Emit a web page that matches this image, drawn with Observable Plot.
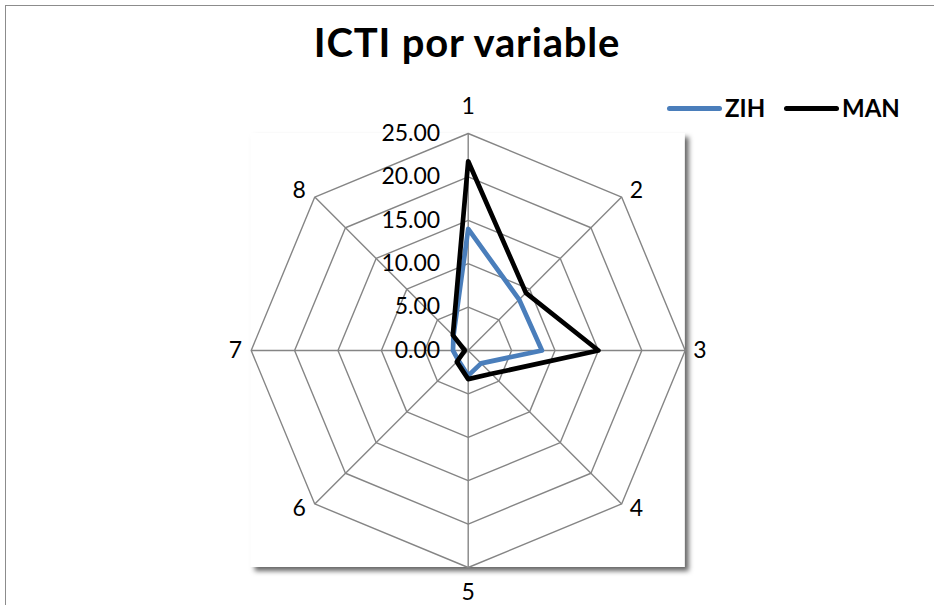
<!DOCTYPE html>
<html>
<head>
<meta charset="utf-8">
<script src="https://cdn.jsdelivr.net/npm/d3@7"></script>
<script src="https://cdn.jsdelivr.net/npm/@observablehq/plot@0.6"></script>
<style>
html, body { margin: 0; padding: 0; background: #fff; overflow: hidden; }
#wrap { position: relative; width: 934px; height: 605px; overflow: hidden; font-family: Lato, "Noto Sans", sans-serif; background: #fff; }
#border { position: absolute; left: 5px; top: 5px; width: 2000px; height: 2000px; border: 1.5px solid #8c8c8c; box-sizing: border-box; pointer-events: none; }
#chart { position: absolute; left: 0; top: 0; }
#title { position: absolute; left: 0; width: 934px; top: 21.5px; line-height: 40px; text-align: center; font-weight: 700; font-size: 40px; letter-spacing: 0.8px; color: #000; }
.sw { position: absolute; height: 4.5px; border-radius: 3px; }
.lt { position: absolute; font-weight: 700; font-size: 24px; line-height: 24px; color: #000; }
</style>
</head>
<body>
<div id="wrap">
  <div id="chart"></div>
  <div id="border"></div>
  <div id="title"></div>
  <div id="legend"></div>
</div>
<script>
// ---- data ----
const titleText = "ICTI por variable";
const axes = ["1", "2", "3", "4", "5", "6", "7", "8"];
const series = ["ZIH", "MAN"];
const zih = [14.0, 8.3, 8.5, 2.1, 2.9, 1.6, 1.75, 2.4];
const man = [21.8, 9.4, 15.0, 3.8, 3.3, 1.85, 0.4, 2.5];
const ticks = [0, 5, 10, 15, 20, 25];
const colors = ["#4a7ebb", "#000000"];

// ---- layout ----
const W = 934, H = 605;
const cx = 467.7, cy = 350, Rpx = 217;
const rMax = d3.max(ticks);
const k = Rpx / rMax;
const ang = i => (i * 2 * Math.PI) / axes.length;
const px = (r, i) => r * Math.sin(ang(i));
const py = (r, i) => r * Math.cos(ang(i));

const values = [zih, man];
const seriesData = series.flatMap((s, si) =>
  values[si].map((v, i) => ({ s, axis: axes[i], x: px(v, i), y: py(v, i) })));

const rings = ticks.filter(t => t > 0).flatMap(t =>
  d3.range(axes.length + 1).map(i => ({ r: t, x: px(t, i % axes.length), y: py(t, i % axes.length) })));

const spokes = axes.map((a, i) => ({ a, x1: 0, y1: 0, x2: px(rMax, i), y2: py(rMax, i) }));

const axisLabelMarks = axes.map((a, i) => {
  const s = Math.sin(ang(i)), c = Math.cos(ang(i));
  const anchor = s > 0.3 ? "start" : s < -0.3 ? "end" : "middle";
  const dx = s > 0.3 ? 8 : s < -0.3 ? -9 : 0;
  const dy = Math.abs(c) > 0.9 ? (c > 0 ? -27 : 25) : Math.abs(c) > 0.5 ? (c > 0 ? -6 : 5) : 0;
  return Plot.text([{ a, x: px(rMax, i), y: py(rMax, i) }], {
    x: "x", y: "y", text: "a", textAnchor: anchor, dx, dy, fontSize: 23, fill: "#000"
  });
});

const plot = Plot.plot({
  width: W,
  height: H,
  margin: 0,
  style: { fontFamily: "Lato, 'Noto Sans', sans-serif", background: "transparent", overflow: "visible" },
  x: { domain: [-cx / k, (W - cx) / k], range: [0, W], axis: null },
  y: { domain: [-(H - cy) / k, cy / k], range: [H, 0], axis: null },
  color: { domain: series, range: colors },
  marks: [
    Plot.rect([{ x1: -rMax, x2: rMax, y1: -rMax, y2: rMax }], { x1: "x1", x2: "x2", y1: "y1", y2: "y2", fill: "white" }),
    Plot.line(rings, { x: "x", y: "y", z: "r", stroke: "#858585", strokeWidth: 1.4 }),
    Plot.link(spokes, { x1: "x1", y1: "y1", x2: "x2", y2: "y2", stroke: "#858585", strokeWidth: 1.4 }),
    Plot.line(seriesData, { x: "x", y: "y", z: "s", stroke: "s", curve: "linear-closed", strokeWidth: 4.7, strokeLinejoin: "round" }),
    Plot.text(ticks, { x: 0, y: d => d, text: d => d.toFixed(2), textAnchor: "end", dx: -28, fontSize: 23, fill: "#000" }),
    ...axisLabelMarks
  ]
});

// drop shadow on plot-area box
const svg = d3.select(plot);
const defs = svg.insert("defs", ":first-child");
const f = defs.append("filter").attr("id", "shadow").attr("x", "-10%").attr("y", "-10%").attr("width", "130%").attr("height", "130%");
f.append("feDropShadow").attr("dx", 4).attr("dy", 4).attr("stdDeviation", 2.5).attr("flood-color", "#000").attr("flood-opacity", 0.6);
svg.select('g[aria-label="rect"]').attr("filter", "url(#shadow)");

document.getElementById("chart").appendChild(plot);
document.getElementById("title").textContent = titleText;

// legend
const legend = document.getElementById("legend");
const legPos = [{ sw: 666.7, tx: 725 }, { sw: 784, tx: 842 }];
series.forEach((s, i) => {
  const sw = document.createElement("div");
  sw.className = "sw";
  sw.style.left = legPos[i].sw + "px";
  sw.style.width = "55px";
  sw.style.top = "106px";
  sw.style.background = colors[i];
  legend.appendChild(sw);
  const t = document.createElement("div");
  t.className = "lt";
  t.style.left = legPos[i].tx + "px";
  t.style.top = "95.5px";
  t.textContent = s;
  legend.appendChild(t);
});
</script>
</body>
</html>
